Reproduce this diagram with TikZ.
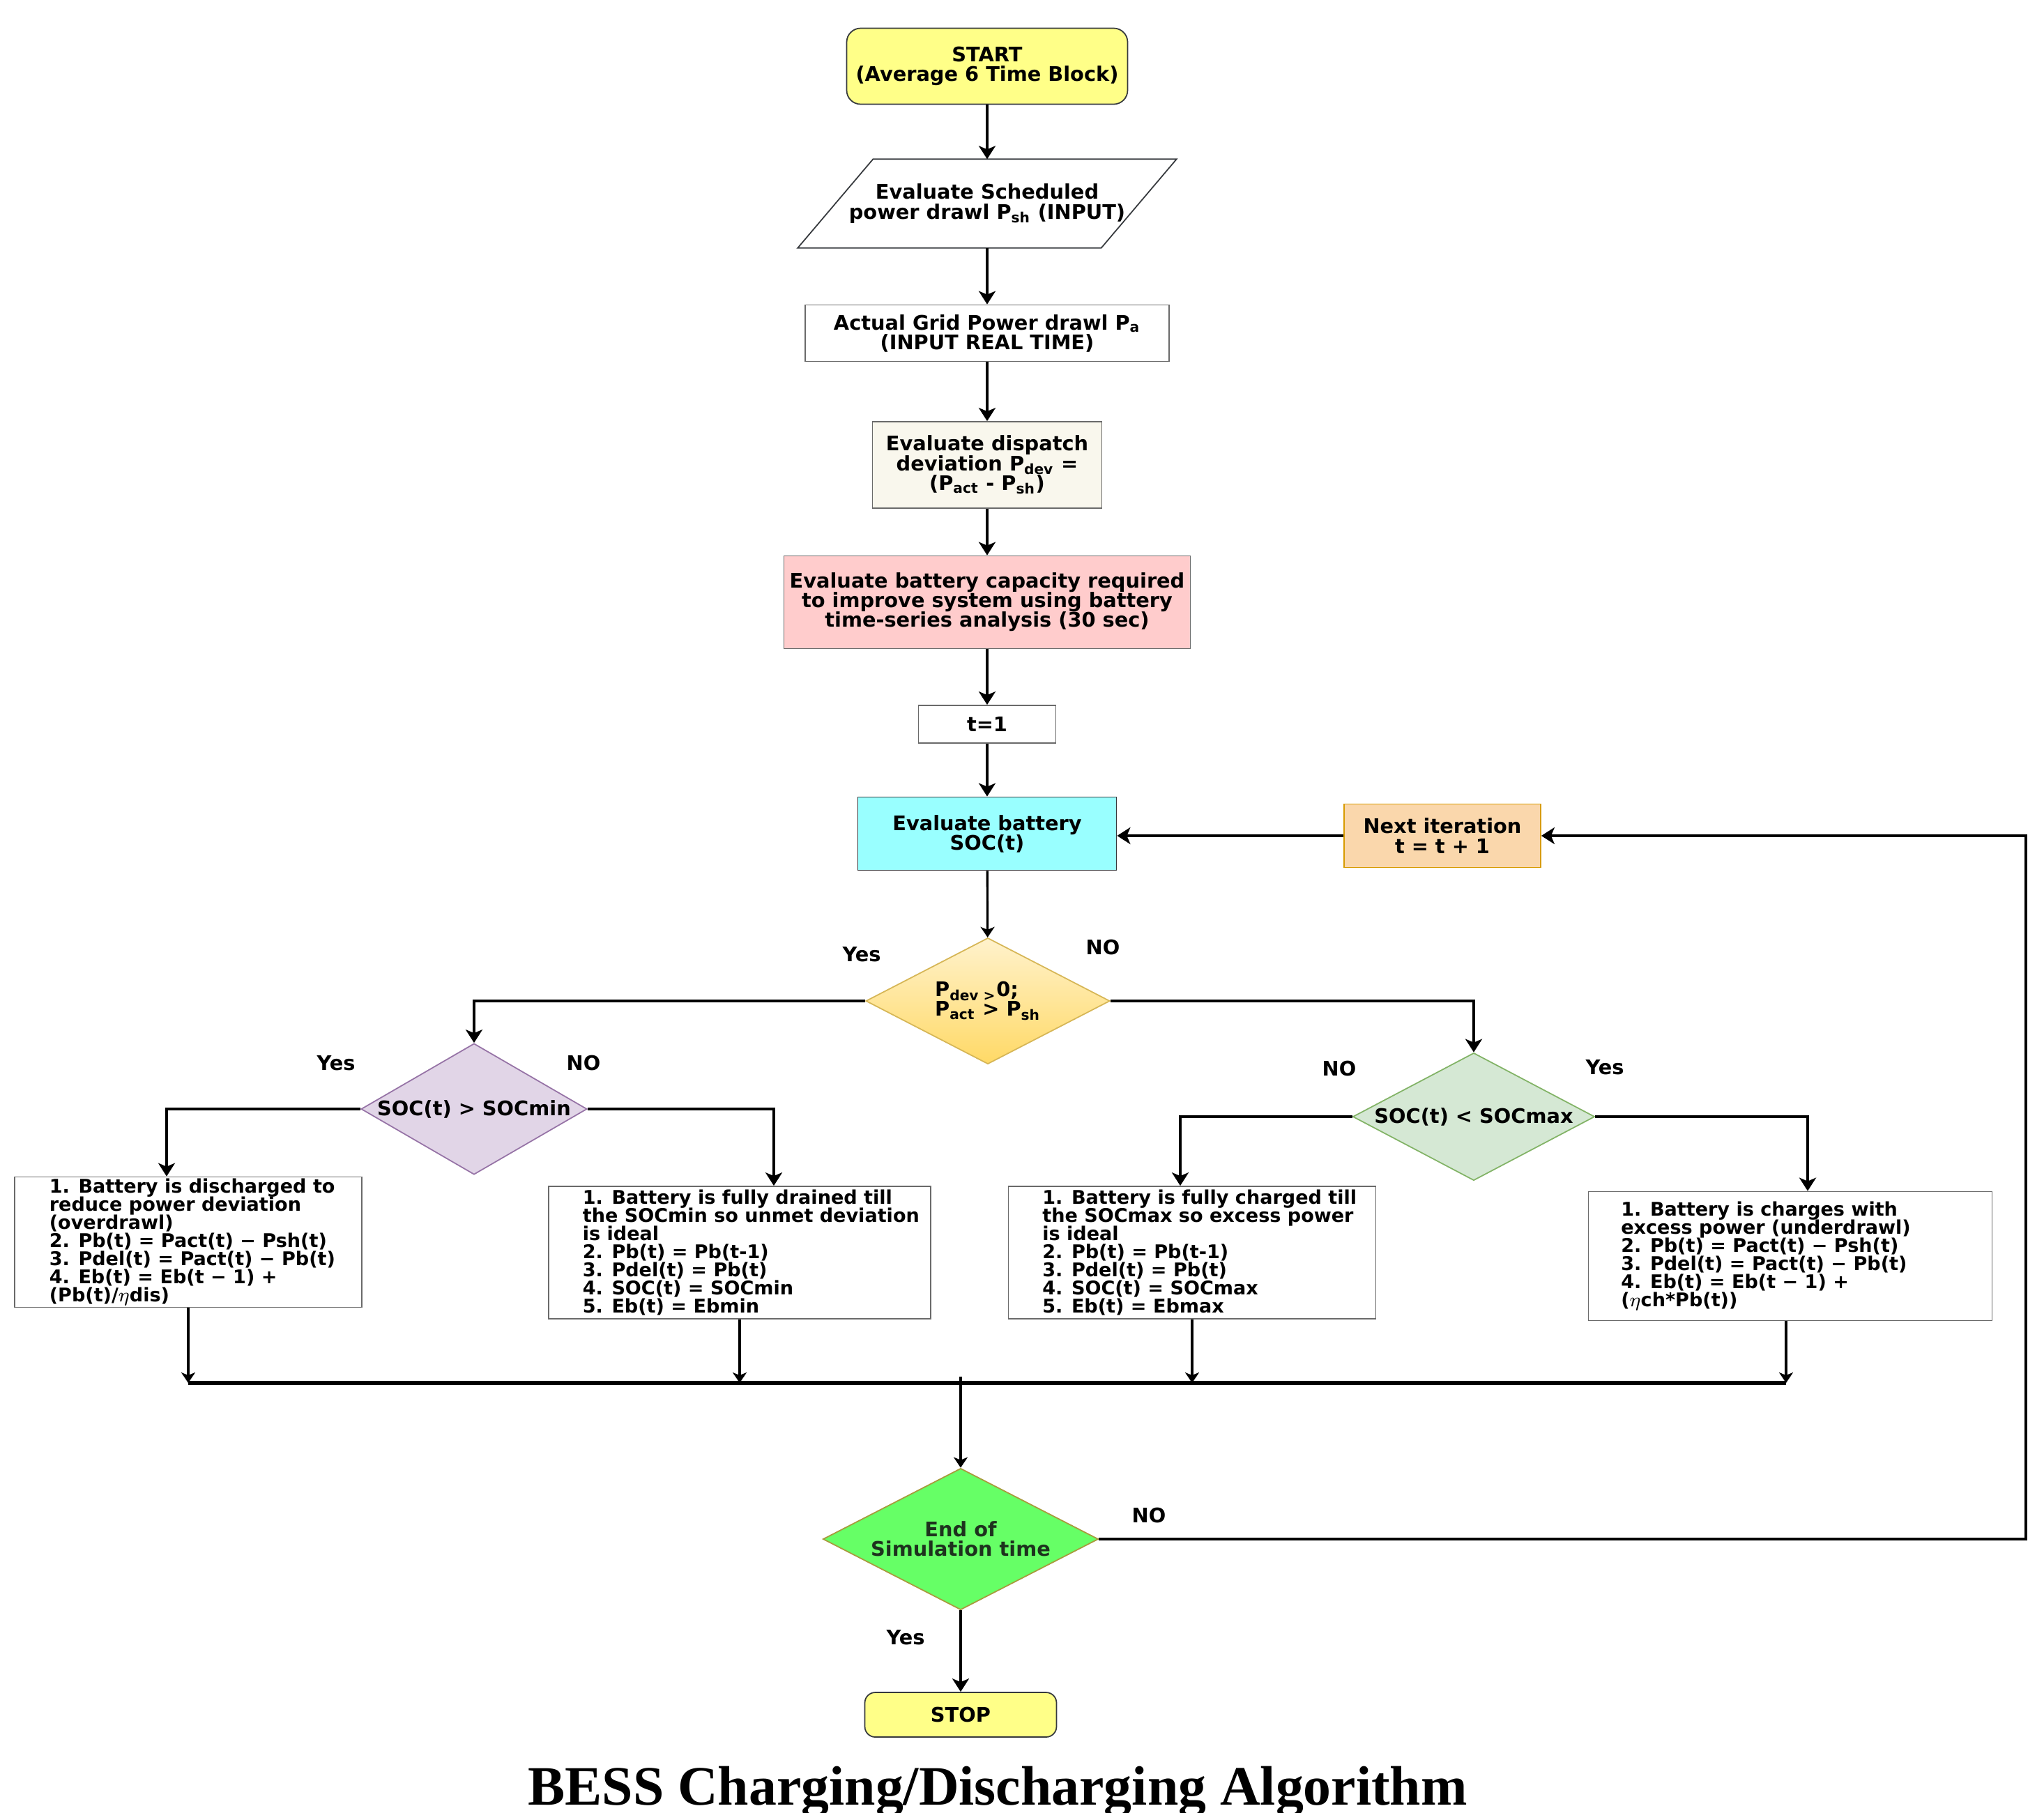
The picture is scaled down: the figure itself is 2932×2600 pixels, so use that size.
\documentclass[tikz,border=0pt]{standalone}
\usepackage{fontspec}
\setmainfont{DejaVu Sans}
\newfontfamily\titlefont{Liberation Serif}
\usetikzlibrary{arrows.meta}
\usetikzlibrary{shapes.geometric}
\usetikzlibrary{calc}

\definecolor{startfill}{HTML}{FFFF88}
\definecolor{darkline}{HTML}{36393D}
\definecolor{boxline}{HTML}{6A6A6A}
\definecolor{socfill}{HTML}{99FFFF}
\definecolor{pinkfill}{HTML}{FFCCCC}
\definecolor{devfill}{HTML}{F9F7ED}
\definecolor{nextfill}{HTML}{FAD7AC}
\definecolor{nextline}{HTML}{D79B00}
\definecolor{ytop}{HTML}{FFF2CC}
\definecolor{ybot}{HTML}{FFD966}
\definecolor{yline}{HTML}{D6B656}
\definecolor{minfill}{HTML}{E1D5E7}
\definecolor{minline}{HTML}{9673A6}
\definecolor{maxfill}{HTML}{D5E8D4}
\definecolor{maxline}{HTML}{82B366}
\definecolor{endfill}{HTML}{66FF66}
\definecolor{endline}{HTML}{A89A3C}
\definecolor{endtext}{HTML}{1E321E}

\newcommand{\boxfont}{\fontsize{8.2}{8}\selectfont\bfseries}
\newcommand{\listfont}{\fontsize{7.7}{7.4}\selectfont\bfseries\lineskiplimit=-5pt\lineskip=0pt}

\begin{document}
\begin{tikzpicture}[x=0.1mm,y=-0.1mm,
  >={Stealth[length=1.9mm,width=2.4mm,inset=0.5mm]},
  every node/.style={font=\boxfont},
  box/.style={draw=darkline,line width=0.5pt,align=center,inner sep=0pt},
  cond/.style={diamond,shape aspect=2,draw,line width=0.5pt,align=center,inner xsep=-6mm,inner ysep=0pt},
  listbox/.style={draw=boxline,line width=0.5pt,fill=white,inner sep=0pt},
  listtext/.style={font=\listfont,align=left,anchor=west,inner sep=0pt},
  flow/.style={->,line width=1.4pt},
  branch/.style={->,line width=1.2pt},
  feed/.style={-{Stealth[length=1.5mm,width=2mm,inset=0.4mm]},line width=0.9pt}]
\useasboundingbox (0,0) rectangle (2932,2600);

% main column
\node[box,fill=startfill,rounded corners=2mm,minimum width=40.3mm,minimum height=10.9mm] (start) at (1416,95) {START\\(Average 6 Time Block)};
\node[align=center,inner sep=0pt,minimum width=43.4mm,minimum height=12.6mm] (sched) at (1416,292) {Evaluate Scheduled\\power drawl P\textsubscript{sh} (INPUT)};
\draw[darkline,line width=0.5pt] ([xshift=5.4mm]sched.north west) -- ([xshift=5.4mm]sched.north east) -- ([xshift=-5.4mm]sched.south east) -- ([xshift=-5.4mm]sched.south west) -- cycle;
\node[box,draw=boxline,minimum width=52.2mm,minimum height=8.1mm] (actual) at (1416,478) {Actual Grid Power drawl P\textsubscript{a}\\(INPUT REAL TIME)};
\node[box,fill=devfill,draw=boxline,minimum width=32.9mm,minimum height=12.4mm] (dev) at (1416,667) {Evaluate dispatch\\deviation P\textsubscript{dev} =\\(P\textsubscript{act} - P\textsubscript{sh})};
\node[box,fill=pinkfill,draw=boxline,minimum width=58.3mm,minimum height=13.3mm] (cap) at (1416,864) {Evaluate battery capacity required\\to improve system using battery\\time-series analysis (30 sec)};
\node[box,draw=boxline,minimum width=19.7mm,minimum height=5.4mm] (tone) at (1416,1039) {t=1};
\node[box,fill=socfill,minimum width=37.1mm,minimum height=10.5mm] (soc) at (1416,1196) {Evaluate battery\\SOC(t)};
\node[box,fill=nextfill,draw=nextline,minimum width=28.2mm,minimum height=9.1mm] (next) at (2069,1199) {Next iteration\\t = t + 1};

% decisions
\node[cond,top color=ytop,bottom color=ybot,draw=yline,align=left,minimum width=35mm,minimum height=18.1mm] (pdev) at (1417,1436) {P\textsubscript{dev >}0;\\P\textsubscript{act} > P\textsubscript{sh}};
\node[cond,fill=minfill,draw=minline,minimum width=32.4mm,minimum height=18.8mm] (socmin) at (680,1591) {SOC(t) > SOCmin};
\node[cond,fill=maxfill,draw=maxline,minimum width=34.7mm,minimum height=18.3mm] (socmax) at (2114,1602) {SOC(t) < SOCmax};

% actions
\node[listbox,minimum width=49.8mm,minimum height=18.7mm] (disch) at (270,1782) {};
\node[listtext] (dischtext) at ([xshift=5mm]disch.west) {1. Battery is discharged to\\reduce power deviation\\(overdrawl)\\2. Pb(t) = Pact(t) − Psh(t)\\3. Pdel(t) = Pact(t) − Pb(t)\\4. Eb(t) = Eb(t − 1) +\\(Pb(t)/$\eta$dis)};
\node[listbox,minimum width=54.8mm,minimum height=19mm] (drain) at (1061,1797) {};
\node[listtext] (draintext) at ([xshift=4.9mm]drain.west) {1. Battery is fully drained till\\the SOCmin so unmet deviation\\is ideal\\2. Pb(t) = Pb(t-1)\\3. Pdel(t) = Pb(t)\\4. SOC(t) = SOCmin\\5. Eb(t) = Ebmin};
\node[listbox,minimum width=52.7mm,minimum height=19mm] (full) at (1710,1797) {};
\node[listtext] (fulltext) at ([xshift=4.9mm]full.west) {1. Battery is fully charged till\\the SOCmax so excess power\\is ideal\\2. Pb(t) = Pb(t-1)\\3. Pdel(t) = Pb(t)\\4. SOC(t) = SOCmax\\5. Eb(t) = Ebmax};
\node[listbox,minimum width=57.9mm,minimum height=18.5mm] (chg) at (2568,1802) {};
\node[listtext] (chgtext) at ([xshift=4.7mm]chg.west) {1. Battery is charges with\\excess power (underdrawl)\\2. Pb(t) = Pact(t) − Psh(t)\\3. Pdel(t) = Pact(t) − Pb(t)\\4. Eb(t) = Eb(t − 1) +\\($\eta$ch*Pb(t))};

% end
\node[cond,fill=endfill,draw=endline,text=endtext,minimum width=39.5mm,minimum height=20.3mm] (endsim) at (1378,2208) {End of\\Simulation time};
\node[box,fill=startfill,rounded corners=1.5mm,minimum width=27.5mm,minimum height=6.4mm] (stop) at (1378,2460) {STOP};

% answers
\node (yesdev) at (1236,1369) {Yes};
\node (nodev) at (1582,1359) {NO};
\node (yesmin) at (482,1525) {Yes};
\node (nomin) at (837,1525) {NO};
\node (nomax) at (1921,1533) {NO};
\node (yesmax) at (2302,1531) {Yes};
\node (noend) at (1648,2174) {NO};
\node (yesend) at (1299,2349) {Yes};

% connectors
\draw[flow] (start) -- (sched);
\draw[flow] (sched) -- (actual);
\draw[flow] (actual) -- (dev);
\draw[flow] (dev) -- (cap);
\draw[flow] (cap) -- (tone);
\draw[flow] (tone) -- (soc);
\draw[flow] (next.west) -- (next.west -| soc.east);
\draw[feed] (soc) -- (pdev);
\draw[branch] (pdev.west) -| (socmin.north);
\draw[branch] (pdev.east) -| (socmax.north);
\draw[branch] (socmin.west) -| ([xshift=-3.1mm]disch.north);
\draw[branch] (socmin.east) -| ([xshift=4.9mm]drain.north);
\draw[branch] (socmax.west) -| ([xshift=-1.7mm]full.north);
\draw[branch] (socmax.east) -| ([xshift=2.5mm]chg.north);

\coordinate (bus) at (1378,1984);
\draw[feed] (disch.south) -- (disch.south |- bus);
\draw[feed] (drain.south) -- (drain.south |- bus);
\draw[feed] (full.south) -- (full.south |- bus);
\draw[feed] ([xshift=-0.6mm]chg.south) -- ([xshift=-0.6mm]chg.south |- bus);
\draw[line width=1.6pt] (disch.south |- bus) -- ([xshift=-0.6mm]chg.south |- bus);
\draw[feed] ([yshift=0.9mm]bus) -- (endsim.north);

\draw[flow] (endsim) -- (stop);
\coordinate (loop) at (2906,1199);
\draw[flow] (endsim.east) -| (loop) -- (next.east);

\node[font=\titlefont\bfseries\fontsize{22.7}{24}\selectfont,anchor=base,inner sep=0pt] (title) at (1431,2589) {BESS Charging/Discharging Algorithm};
\end{tikzpicture}
\end{document}
